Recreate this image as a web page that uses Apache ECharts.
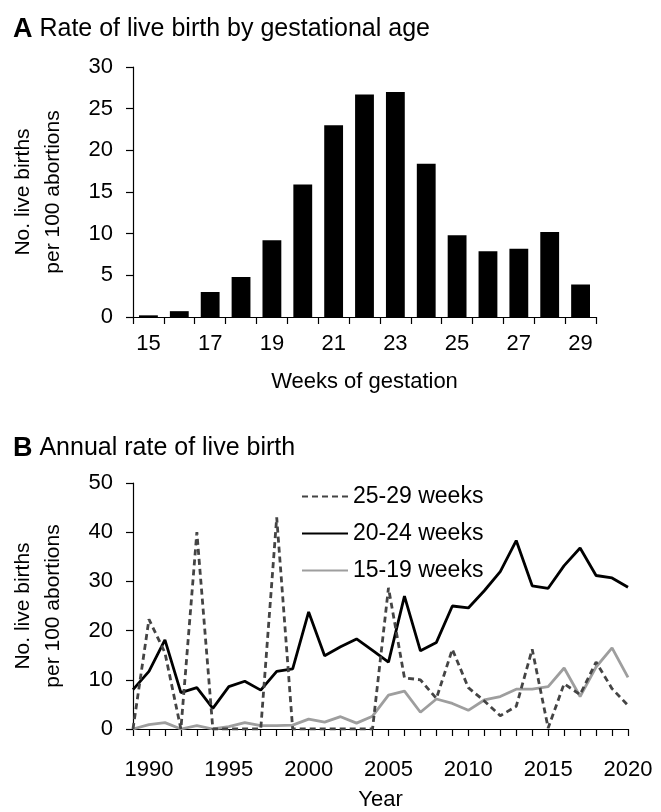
<!DOCTYPE html>
<html><head><meta charset="utf-8">
<script src="https://cdn.jsdelivr.net/npm/echarts@6/dist/echarts.min.js"></script>
<style>html,body{margin:0;padding:0;background:#fff}#c{width:661px;height:812px}</style>
</head><body><div id="c"></div>
<script>
const weeks = ['15','16','17','18','19','20','21','22','23','24','25','26','27','28','29'];
const liveBirthRate = [0.2, 0.7, 3.0, 4.8, 9.2, 15.9, 23.0, 26.7, 27.0, 18.4, 9.8, 7.9, 8.2, 10.2, 3.9];

const years = ['1989','1990','1991','1992','1993','1994','1995','1996','1997','1998','1999','2000','2001','2002','2003','2004',
               '2005','2006','2007','2008','2009','2010','2011','2012','2013','2014','2015','2016','2017','2018','2019','2020'];
const weeks25to29 = [0, 22.3, 15.5, 0, 40.0, 0, 0, 0, 0, 43.0, 0, 0, 0, 0, 0, 0,
                     28.7, 10.4, 10.0, 6.2, 16.2, 8.4, 5.7, 2.7, 4.6, 16.2, 0.2, 9.2, 7.0, 13.6, 8.2, 4.8];
const weeks20to24 = [8.0, 11.7, 18.1, 7.4, 8.4, 4.2, 8.6, 9.7, 7.9, 11.7, 12.2, 23.8, 14.9, 16.7, 18.3, 16.0,
                     13.6, 27.0, 15.9, 17.6, 25.0, 24.6, 28.1, 32.0, 38.3, 29.1, 28.6, 33.2, 36.8, 31.2, 30.7, 28.8];
const weeks15to19 = [0, 0.9, 1.3, 0, 0.7, 0, 0.5, 1.3, 0.7, 0.7, 0.8, 2.0, 1.4, 2.5, 1.2, 2.6,
                     6.9, 7.7, 3.4, 6.1, 5.2, 3.8, 5.9, 6.6, 8.1, 8.1, 8.6, 12.4, 6.6, 12.6, 16.5, 10.5];
const seriesNames = ['25-29 weeks', '20-24 weeks', '15-19 weeks'];

const FONT = 'Liberation Sans, Arial, sans-serif';
const axisLine = {show: true, lineStyle: {color: '#000', width: 1.2}};
const tickStyle = {color: '#000', width: 1.2};
const lbl = {color: '#000', fontSize: 22, fontFamily: FONT};
const nameStyle = {fontSize: 22, color: '#000', fontFamily: FONT};
const yNameStyle = {fontSize: 21, color: '#000', fontFamily: FONT, lineHeight: 30};
const titleStyle = {fontSize: 25, fontWeight: 'normal', color: '#000', fontFamily: FONT,
  rich: {b: {fontSize: 27, fontWeight: 'bold', color: '#000', fontFamily: FONT}}};

const chart = echarts.init(document.getElementById('c'), null, {renderer: 'canvas'});
chart.setOption({
  animation: false,
  backgroundColor: '#fff',
  textStyle: {fontFamily: FONT, color: '#000'},
  title: [
    {text: '{b|A} Rate of live birth by gestational age', left: 8, top: 11, textStyle: titleStyle},
    {text: '{b|B} Annual rate of live birth', left: 8, top: 430, textStyle: titleStyle}
  ],
  grid: [
    {left: 129, top: 67, width: 467, height: 250},
    {left: 129, top: 483, width: 499, height: 248}
  ],
  legend: {
    orient: 'vertical', left: 296, top: 478,
    itemWidth: 46, itemHeight: 14, itemGap: 10,
    data: seriesNames,
    itemStyle: {opacity: 0},
    textStyle: {fontSize: 23, color: '#000', fontFamily: FONT, lineHeight: 27}
  },
  xAxis: [
    {type: 'category', gridIndex: 0, data: weeks, boundaryGap: true,
     axisLine: axisLine,
     axisTick: {show: true, interval: 0, length: 7, lineStyle: tickStyle},
     axisLabel: Object.assign({interval: 1, margin: 16}, lbl),
     name: 'Weeks of gestation', nameLocation: 'middle', nameGap: 54, nameTextStyle: nameStyle},
    {type: 'category', gridIndex: 1, data: years, boundaryGap: false,
     axisLine: axisLine,
     axisTick: {show: true, interval: 0, length: 7, lineStyle: tickStyle},
     axisLabel: Object.assign({interval: function (i, v) { return (+v) % 5 === 0; }, margin: 30}, lbl),
     name: 'Year', nameLocation: 'middle', nameGap: 60, nameTextStyle: nameStyle}
  ],
  yAxis: [
    {type: 'value', gridIndex: 0, min: 0, max: 30, interval: 5,
     axisLine: axisLine, splitLine: {show: false},
     axisTick: {show: true, length: 7, lineStyle: tickStyle},
     axisLabel: Object.assign({margin: 20}, lbl),
     name: 'No. live births\nper 100 abortions', nameLocation: 'middle', nameGap: 65, nameRotate: 90,
     nameTextStyle: yNameStyle},
    {type: 'value', gridIndex: 1, min: 0, max: 50, interval: 10,
     axisLine: axisLine, splitLine: {show: false},
     axisTick: {show: true, length: 7, lineStyle: tickStyle},
     axisLabel: Object.assign({margin: 20}, lbl),
     name: 'No. live births\nper 100 abortions', nameLocation: 'middle', nameGap: 65, nameRotate: 90,
     nameTextStyle: yNameStyle}
  ],
  series: [
    {type: 'bar', xAxisIndex: 0, yAxisIndex: 0, data: liveBirthRate, barWidth: '61%',
     itemStyle: {color: '#000'}},
    {name: seriesNames[2], type: 'line', xAxisIndex: 1, yAxisIndex: 1, data: weeks15to19,
     symbol: 'none', lineStyle: {color: '#9e9e9e', width: 2.8}, itemStyle: {color: '#9e9e9e'}},
    {name: seriesNames[1], type: 'line', xAxisIndex: 1, yAxisIndex: 1, data: weeks20to24,
     symbol: 'none', lineStyle: {color: '#000', width: 2.8}, itemStyle: {color: '#000'}},
    {name: seriesNames[0], type: 'line', xAxisIndex: 1, yAxisIndex: 1, data: weeks25to29,
     symbol: 'none', lineStyle: {color: '#444', width: 2.8, type: [6, 4]}, itemStyle: {color: '#444'}}
  ]
});
</script>
</body></html>
